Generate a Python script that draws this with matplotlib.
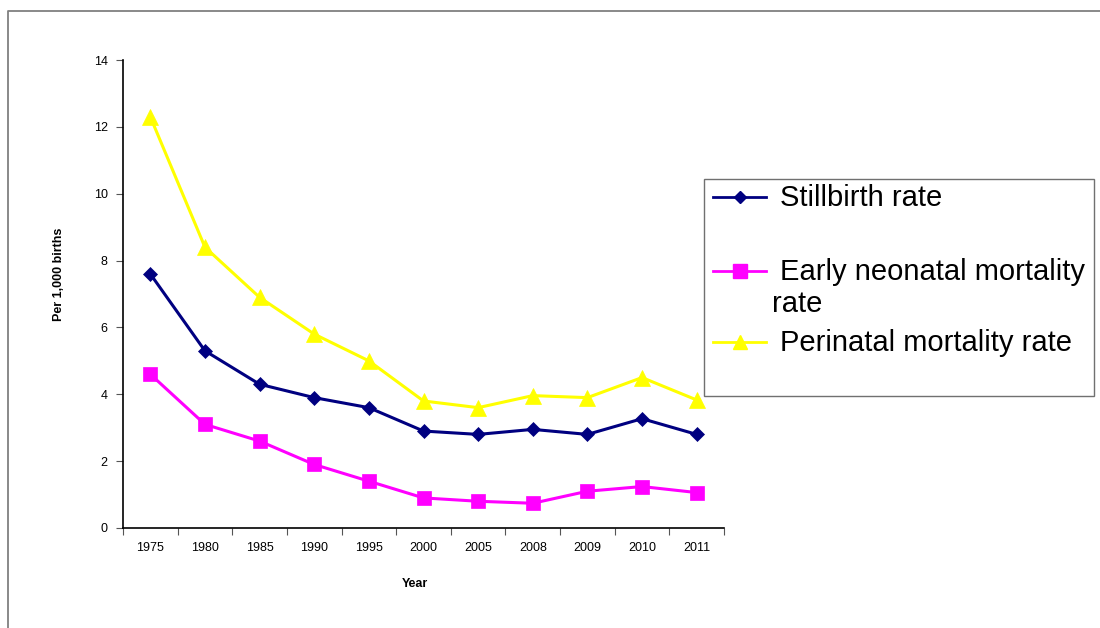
import matplotlib
matplotlib.use("Agg")
import matplotlib.pyplot as plt
from matplotlib.lines import Line2D
from matplotlib.patches import Rectangle

plt.rcParams['font.family'] = ['Liberation Sans', 'DejaVu Sans']

years = ["1975", "1980", "1985", "1990", "1995", "2000", "2005", "2008", "2009", "2010", "2011"]
stillbirth = [7.6, 5.3, 4.3, 3.9, 3.6, 2.9, 2.8, 2.95, 2.8, 3.27, 2.8]
early_neonatal = [4.6, 3.1, 2.6, 1.9, 1.4, 0.9, 0.8, 0.74, 1.1, 1.24, 1.06]
perinatal = [12.3, 8.4, 6.9, 5.8, 5.0, 3.8, 3.6, 3.96, 3.9, 4.5, 3.83]
series_labels = ["Stillbirth rate", "Early neonatal mortality\nrate", "Perinatal mortality rate"]
yticks = [0, 2, 4, 6, 8, 10, 12, 14]

W, H = 1100, 628
fig = plt.figure(figsize=(W / 100, H / 100), dpi=100)

def fx(px):
    return px / W

def fy(py):
    return 1 - py / H

ax = fig.add_axes([fx(123), fy(528), fx(724) - fx(123), fy(60) - fy(528)])

colors = ["#000080", "#FF00FF", "#FFFF00"]
markers = ["D", "s", "^"]
msizes = [7, 10.5, 11]
xs = list(range(len(years)))
for vals, c, m, ms in zip([stillbirth, early_neonatal, perinatal], colors, markers, msizes):
    ax.plot(xs, vals, color=c, lw=2.2, marker=m, ms=ms, mfc=c, mec=c, mew=0.5, zorder=3)

ax.set_xlim(-0.5, len(years) - 0.5)
ax.set_ylim(0, 14)
ax.set_yticks(yticks)
ax.set_yticklabels([str(v) for v in yticks])
ax.set_xticks(xs)
ax.set_xticklabels(years)
ax.set_xticks([i - 0.5 for i in range(len(years) + 1)], minor=True)
ax.tick_params(axis='x', which='major', length=0, pad=10, labelsize=9)
ax.tick_params(axis='x', which='minor', length=5, width=0.8, color='#555555', direction='out')
ax.tick_params(axis='y', which='major', length=5, width=0.8, color='#555555', direction='out', labelsize=9, pad=6)
for s in ['top', 'right']:
    ax.spines[s].set_visible(False)
for s in ['left', 'bottom']:
    ax.spines[s].set_linewidth(1.2)
    ax.spines[s].set_color('black')

ax.set_ylabel("Per 1,000 births", fontsize=9, fontweight='bold')
ax.yaxis.set_label_coords(-(123 - 65) / 601, (528 - 274) / 468)
ax.set_xlabel("Year", fontsize=9, fontweight='bold')
ax.xaxis.set_label_coords((415 - 123) / 601, -(578 - 528) / 468)

# outer frame (top and left)
fig.add_artist(Line2D([fx(8), fx(8), 1.0], [0.0, fy(11), fy(11)], transform=fig.transFigure,
                      color='#808080', lw=1.3))

# legend box
fig.add_artist(Rectangle((fx(704), fy(396)), fx(1094) - fx(704), fy(179) - fy(396),
                         transform=fig.transFigure, fill=False, edgecolor='#707070', lw=1.0))
leg_rows = [197, 271, 342]
text_rows = [198, 272, 343]
leg_ms = [6, 10, 10]
for row, trow, c, m, ms, lab in zip(leg_rows, text_rows, colors, markers, leg_ms, series_labels):
    fig.add_artist(Line2D([fx(713), fx(766)], [fy(row), fy(row)], transform=fig.transFigure,
                          color=c, lw=2))
    fig.add_artist(Line2D([fx(740)], [fy(row)], transform=fig.transFigure, color=c,
                          marker=m, ms=ms, mfc=c, mec=c, lw=0))
    lines = lab.split("\n")
    for k, ln in enumerate(lines):
        x0 = 780 if k == 0 else 772
        fig.text(fx(x0), fy(trow + 32 * k), ln, fontsize=21, va='center', ha='left')

fig.savefig("out.png", dpi=100)
